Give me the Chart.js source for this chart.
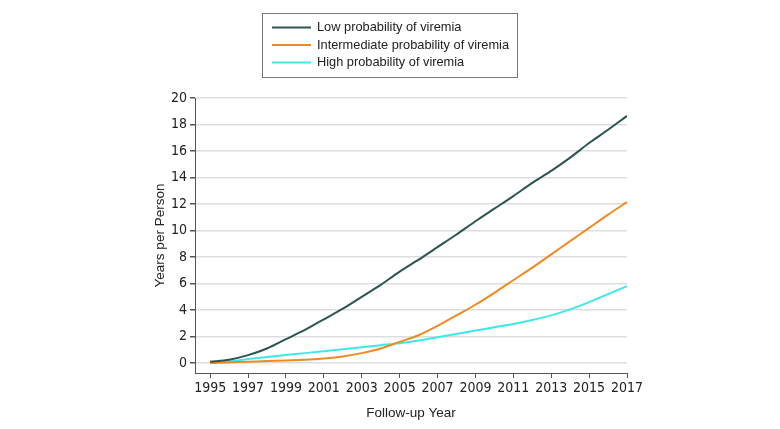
<!DOCTYPE html>
<html>
<head>
<meta charset="utf-8">
<script src="https://cdn.jsdelivr.net/npm/chart.js@4"></script>
<style>
  html, body { margin: 0; padding: 0; background: #fff; }
  #wrap { width: 780px; height: 429px; }
</style>
</head>
<body>
<div id="wrap"><canvas id="chart" width="780" height="429"></canvas></div>
<script>
const years = [1995, 1996, 1997, 1998, 1999, 2000, 2001, 2002, 2003, 2004, 2005,
  2006, 2007, 2008, 2009, 2010, 2011, 2012, 2013, 2014, 2015, 2016, 2017];

const lowProb = [0.1, 0.25, 0.6, 1.1, 1.8, 2.5, 3.3, 4.1, 5.0, 5.9, 6.9,
  7.8, 8.75, 9.7, 10.7, 11.65, 12.6, 13.6, 14.5, 15.5, 16.6, 17.6, 18.65];
const midProb = [0, 0.05, 0.1, 0.15, 0.2, 0.25, 0.35, 0.5, 0.75, 1.1, 1.6,
  2.1, 2.8, 3.6, 4.4, 5.3, 6.25, 7.2, 8.2, 9.2, 10.2, 11.2, 12.15];
const highProb = [0, 0.12, 0.3, 0.45, 0.6, 0.75, 0.9, 1.05, 1.2, 1.35, 1.5,
  1.7, 1.95, 2.2, 2.45, 2.7, 2.95, 3.25, 3.6, 4.05, 4.6, 5.2, 5.8];

const xTicks = [1995, 1997, 1999, 2001, 2003, 2005, 2007, 2009, 2011, 2013, 2015, 2017];
const yTicks = [0, 2, 4, 6, 8, 10, 12, 14, 16, 18, 20];

const seriesNames = ["Low probability of viremia", "Intermediate probability of viremia", "High probability of viremia"];
const seriesColors = ["#2b5551", "#ef8a22", "#3ee8e8"];

const FONT = "'Liberation Sans', Arial, sans-serif";
const NARROW = "'Liberation Sans Narrow', 'DejaVu Sans Condensed', sans-serif";

function toPoints(vals) {
  return years.map((y, i) => ({ x: y, y: vals[i] }));
}

// legend drawn by hand so it gets the framed box of the original
const boxLegend = {
  id: "boxLegend",
  afterDraw(chart) {
    const ctx = chart.ctx;
    const left = 262.5, top = 13.5, w = 255, h = 64;
    ctx.save();
    ctx.strokeStyle = "#777";
    ctx.lineWidth = 1;
    ctx.strokeRect(left, top, w, h);
    ctx.font = "12.8px " + FONT;
    ctx.textBaseline = "middle";
    ctx.fillStyle = "#222";
    chart.data.datasets.forEach((ds, i) => {
      const y = 27.5 + i * 17.5;
      ctx.strokeStyle = ds.borderColor;
      ctx.lineWidth = 2;
      ctx.beginPath();
      ctx.moveTo(272, y);
      ctx.lineTo(311, y);
      ctx.stroke();
      ctx.fillText(ds.label, 317, y);
    });
    ctx.restore();
  }
};

const ctx = document.getElementById("chart").getContext("2d");
new Chart(ctx, {
  type: "line",
  data: {
    datasets: [lowProb, midProb, highProb].map((vals, i) => ({
      label: seriesNames[i],
      data: toPoints(vals),
      borderColor: seriesColors[i],
      borderWidth: 2,
      pointRadius: 0,
      tension: 0.3,
      fill: false
    }))
  },
  options: {
    responsive: false,
    animation: false,
    layout: { padding: { top: 98, left: 152, right: 153, bottom: 4 } },
    plugins: { legend: { display: false }, tooltip: { enabled: false } },
    scales: {
      x: {
        type: "linear",
        min: 1994.2,
        max: 2017,
        afterBuildTicks: s => { s.ticks = xTicks.map(v => ({ value: v })); },
        afterFit: s => { s.height = 52; },
        border: { color: "#555", width: 1 },
        grid: { drawOnChartArea: false, drawTicks: true, tickLength: 5, tickColor: "#555" },
        ticks: { color: "#222", font: { family: NARROW, size: 14 }, padding: 2, maxRotation: 0, callback: v => String(v) },
        title: { display: true, text: "Follow-up Year", color: "#222", font: { family: FONT, size: 13.5 }, padding: { top: 3 } }
      },
      y: {
        min: -0.75,
        max: 20,
        afterBuildTicks: s => { s.ticks = yTicks.map(v => ({ value: v })); },
        afterFit: s => { s.width = 43; },
        border: { color: "#555", width: 1 },
        grid: { color: "#dddddd", lineWidth: 1.5, tickLength: 5, tickColor: "#555" },
        ticks: { color: "#222", font: { family: NARROW, size: 14 }, padding: 3 },
        title: { display: true, text: "Years per Person", color: "#222", font: { family: FONT, size: 13.5 }, padding: 0 }
      }
    }
  },
  plugins: [boxLegend]
});
</script>
</body>
</html>
